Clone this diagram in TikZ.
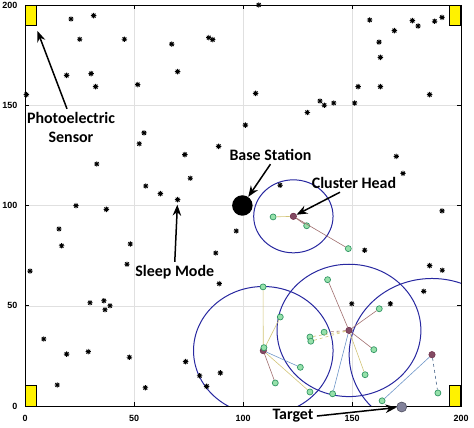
\documentclass[tikz,border=0pt]{standalone}
\usepackage{fontspec}
\setmainfont{Carlito}
\newfontfamily\tickfont{Liberation Sans}
\usetikzlibrary{arrows.meta}
\definecolor{brownlink}{RGB}{160,110,110}
\definecolor{yellowlink}{RGB}{210,196,120}
\definecolor{bluelink}{RGB}{110,150,200}
\definecolor{ringblue}{RGB}{40,40,160}
\definecolor{headred}{RGB}{100,30,60}
\definecolor{targetgrey}{RGB}{130,130,155}
\definecolor{memberfill}{RGB}{150,225,170}
\definecolor{memberedge}{RGB}{50,150,100}
\tikzset{
  member/.style={circle,draw=memberedge,fill=memberfill,inner sep=0pt,minimum size=6bp,line width=0.7bp},
  head/.style={circle,draw=headred,fill=headred!80,inner sep=0pt,minimum size=6.5bp},
  sensorbox/.style={draw=black,fill=yellow,line width=0.9bp,inner sep=0pt,minimum width=11bp,minimum height=20.5bp},
  coverage/.style={draw=ringblue,line width=1bp},
  pointer/.style={-{Stealth[length=11bp,width=8.5bp]},line width=1.5bp},
  callout/.style={font=\fontsize{16}{19}\selectfont\bfseries,align=center},
  ticklabel/.style={font=\fontsize{9}{10}\selectfont\tickfont\bfseries},
  starmark/.style={line width=0.9bp},
  link/.style={line width=0.6bp},
  gridline/.style={draw=black!12,line width=0.5bp}
}
\begin{document}
\begin{tikzpicture}[x=2.18bp,y=2.005bp]
\useasboundingbox (-11.47,-10.97) rectangle (205.96,202.49);
\foreach \t in {50,100,150} {
  \draw[gridline] (\t,0) -- (\t,200);
  \draw[gridline] (0,\t) -- (200,\t);
}
\node[head] (ch1) at (123.1,94.6) {};
\node[head] (ch2) at (148.6,37.7) {};
\node[head] (ch3) at (109.3,27.6) {};
\node[head] (ch4) at (186.7,25.6) {};
\begin{scope}
\clip (0,0) rectangle (200,200);
\draw[coverage] (ch1) circle[radius=18.2];
\draw[coverage] (ch2) circle[radius=33];
\draw[coverage] (ch3) circle[radius=32];
\draw[coverage] (ch4) circle[radius=38];
\end{scope}
\node[member] (m1a) at (113.8,94.3) {};
\node[member] (m1b) at (129.2,89.9) {};
\node[member] (m1c) at (148.3,78.5) {};
\node[member] (m2a) at (138.8,63.0) {};
\node[member] (m2b) at (162.5,48.5) {};
\node[member] (m2c) at (137.2,36.8) {};
\node[member] (m2d) at (130.7,34.4) {};
\node[member] (m2e) at (131.1,32.3) {};
\node[member] (m2f) at (160.0,28.1) {};
\node[member] (m2g) at (156.0,15.6) {};
\node[member] (m2h) at (141.1,6.1) {};
\node[member] (m3a) at (109.2,59.4) {};
\node[member] (m3b) at (117.1,44.4) {};
\node[member] (m3d) at (126.3,19.3) {};
\node[member] (m3e) at (114.8,11.5) {};
\node[member] (m3f) at (130.7,7.0) {};
\node[member] (m4a) at (189.4,6.5) {};
\node[member] (m4b) at (163.8,2.6) {};
\draw[link,yellowlink] (ch1) -- (m1a);
\draw[link,brownlink] (ch1) -- (m1b);
\draw[link,brownlink] (ch1) -- (m1c);
\draw[link,brownlink] (ch2) -- (m2a);
\draw[link,brownlink] (ch2) -- (m2b);
\draw[link,brownlink,dashed] (ch2) -- (m2c);
\draw[link,yellowlink,dashed] (ch2) -- (m2d);
\draw[link,yellowlink,dashed] (ch2) -- (m2e);
\draw[link,brownlink] (ch2) -- (m2f);
\draw[link,yellowlink] (ch2) -- (m2g);
\draw[link,bluelink] (ch2) -- (m2h);
\draw[link,yellowlink] (ch3) -- (m3a);
\draw[link,yellowlink] (ch3) -- (m3b);
\draw[link,bluelink] (ch3) -- (m3d);
\draw[link,brownlink] (ch3) -- (m3e);
\draw[link,yellowlink] (ch3) -- (m3f);
\draw[link,bluelink!70!black,dashed] (ch4) -- (m4a);
\draw[link,bluelink] (ch4) -- (m4b);
\node[member] (m3c) at (109.6,29.1) {};
\foreach \x/\y in {21.1/193,31.5/194.7,25.1/182.9,45.6/182.9,67.3/180.5,84.3/183.7,86.1/182.7,
  19.1/164.9,30.3/165.8,70.0/166.8,32.4/159.3,51.7/160.3,0.6/155.3,54.6/136.2,52.4/130.8,
  88.8/129.5,73.3/125.4,32.9/120.7,75.8/113.6,55.4/109.7,62.1/105.9,70.0/102.9,23.4/99.9,37.3/98.1,
  107.2/200,158.1/192.5,169.4/187.2,177.7/192.2,180.3/189.5,187.9/191.9,191.3/193.8,162.4/181.5,
  163.0/173.9,105.8/155.9,152.8/159.3,163.0/159.3,185.6/155.3,135.3/152.1,137.3/150.0,141.6/151.1,
  151.2/151.1,129.5/146.4,101.1/140.1,170.3/124.5,173.4/116.0,117.0/110.1,191.3/97.3,
  15.6/88.3,16.8/79.9,48.3/80.8,46.8/70.7,2.3/67.3,87.5/76.3,89.1/61.0,96.9/87.3,29.8/51.5,
  36.2/52.5,36.7/48.0,39.0/50.0,8.6/33.4,19.1/25.9,29.0/27.1,47.9/24.3,73.7/22.1,89.6/16.5,
  80.1/15.1,83.3/9.8,14.8/10.5,55.2/9.1,155.8/77.7,185.6/70.0,191.4/67.7,182.9/57.2,149.9/51.0,167.6/51.0}
  \draw[starmark] (\x,\y) +(-2.7bp,0) -- +(2.7bp,0) +(0,-2.7bp) -- +(0,2.7bp)
    +(-1.9bp,-1.9bp) -- +(1.9bp,1.9bp) +(-1.9bp,1.9bp) -- +(1.9bp,-1.9bp);
\coordinate (sleepstar) at (70.0,102.9);
\draw[line width=0.9bp] (0,0) rectangle (200,200);
\foreach \t in {0,50,100,150,200} {
  \draw[line width=0.6bp] (\t,0) -- ++(0,4bp) (\t,200) -- ++(0,-4bp);
  \draw[line width=0.6bp] (0,\t) -- ++(4bp,0) (200,\t) -- ++(-4bp,0);
  \node[ticklabel] (xt\t) at (\t,-6.3) {\t};
  \node[ticklabel,anchor=east] (yt\t) at (-1.9,\t) {\t};
}
\node[sensorbox] (pe1) at (2.5,194.9) {};
\node[sensorbox] (pe2) at (197.3,194.9) {};
\node[sensorbox] (pe3) at (2.5,5.05) {};
\node[sensorbox] (pe4) at (197.3,5.05) {};
\node[circle,fill=black,inner sep=0pt,minimum size=20.5bp] (bs) at (99.7,100) {};
\node[circle,draw=targetgrey!60!black,fill=targetgrey,line width=0.6bp,inner sep=0pt,minimum size=10bp] (target) at (172.8,-0.5) {};
\node[callout] (pelabel) at (21.1,138.9) {Photoelectric\\Sensor};
\node[callout] (bslabel) at (112.6,125.2) {Base Station};
\node[callout] (chlabel) at (150.9,111.2) {Cluster Head};
\node[callout] (smlabel) at (68.7,66.7) {Sleep Mode};
\node[callout] (tglabel) at (122.9,-5.0) {Target};
\draw[pointer] ([xshift=-4bp]pelabel.north) -- ([shift={(1bp,-5bp)}]pe1.south east);
\draw[pointer] (bslabel.south) -- (bs);
\draw[pointer] ([xshift=-14bp]chlabel.south) -- (ch1);
\draw[pointer,shorten >=5bp] (smlabel.north) -- (sleepstar);
\draw[pointer] (tglabel.east) -- (target);
\end{tikzpicture}
\end{document}
